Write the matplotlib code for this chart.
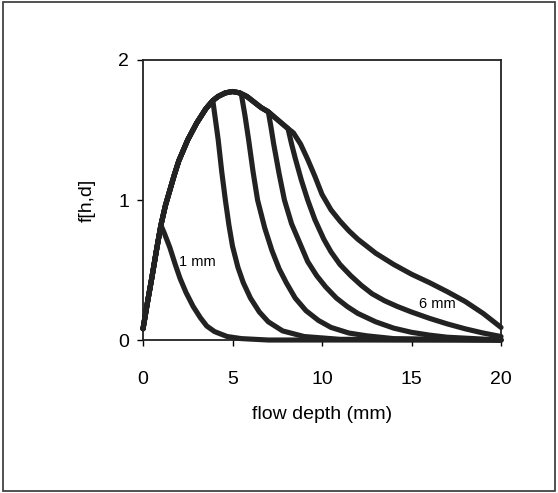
import matplotlib
matplotlib.use("Agg")
import matplotlib.pyplot as plt
from matplotlib.patches import Rectangle

plt.rcParams['font.family'] = ['Liberation Sans', 'DejaVu Sans']

# shared rising part (envelope) of all curves
env_x = [0.0, 0.25, 0.5, 0.75, 1.0, 1.25, 1.5, 1.75, 2.0, 2.5, 3.0, 3.5, 3.9,
         4.2, 4.6, 5.0, 5.4, 5.8, 6.2, 6.6, 7.0, 7.5, 8.1]
env_y = [0.08, 0.27, 0.45, 0.64, 0.82, 0.96, 1.07, 1.18, 1.28, 1.43, 1.55, 1.65, 1.71,
         1.74, 1.765, 1.775, 1.765, 1.74, 1.70, 1.66, 1.63, 1.575, 1.51]

# falling branch of each drop size (d, mm), starts where it leaves the envelope
d1_x = [1.0, 1.2, 1.5, 1.8, 2.07, 2.4, 2.8, 3.2, 3.56, 4.0, 4.7, 5.5, 7.0, 20.0]
d1_y = [0.82, 0.76, 0.66, 0.54, 0.44, 0.34, 0.24, 0.16, 0.10, 0.06, 0.025, 0.01, 0.0, 0.0]

d2_x = [3.9, 4.05, 4.2, 4.4, 4.6, 4.8, 5.0, 5.3, 5.6, 6.0, 6.5, 7.0, 7.8, 9.0, 11.0, 20.0]
d2_y = [1.71, 1.57, 1.43, 1.2, 1.0, 0.82, 0.67, 0.52, 0.41, 0.30, 0.20, 0.13, 0.065, 0.025, 0.005, 0.0]

d3_x = [5.5, 5.7, 5.9, 6.15, 6.4, 6.8, 7.2, 7.6, 8.0, 8.5, 9.1, 9.8, 10.5, 11.5, 12.5, 14.0, 20.0]
d3_y = [1.75, 1.6, 1.43, 1.2, 1.0, 0.8, 0.64, 0.51, 0.41, 0.30, 0.21, 0.14, 0.09, 0.05, 0.03, 0.01, 0.0]

d4_x = [7.0, 7.15, 7.3, 7.6, 7.9, 8.3, 8.8, 9.2, 9.7, 10.2, 10.8, 11.4, 12.0, 13.0,
        14.0, 15.0, 16.0, 17.0, 20.0]
d4_y = [1.63, 1.52, 1.40, 1.19, 1.0, 0.83, 0.68, 0.56, 0.46, 0.38, 0.30, 0.24, 0.19, 0.13,
        0.085, 0.055, 0.035, 0.02, 0.0]

d5_x = [8.1, 8.3, 8.5, 8.85, 9.2, 9.6, 10.1, 10.5, 11.0, 11.6, 12.2, 12.8, 13.5, 14.2,
        15.0, 16.0, 17.0, 18.0, 19.0, 20.0]
d5_y = [1.51, 1.40, 1.30, 1.14, 1.0, 0.86, 0.72, 0.63, 0.54, 0.46, 0.39, 0.33, 0.28, 0.24,
        0.20, 0.155, 0.115, 0.08, 0.05, 0.025]

d6_x = [8.1, 8.4, 8.8, 9.2, 9.6, 10.0, 10.5, 11.0, 11.5, 12.0, 13.0, 14.0,
        15.0, 16.0, 17.0, 18.0, 19.0, 20.0]
d6_y = [1.51, 1.48, 1.40, 1.29, 1.17, 1.04, 0.93, 0.85, 0.78, 0.72, 0.62, 0.54,
        0.47, 0.41, 0.345, 0.275, 0.19, 0.09]

tails = [(d1_x, d1_y), (d2_x, d2_y), (d3_x, d3_y), (d4_x, d4_y), (d5_x, d5_y), (d6_x, d6_y)]

fig = plt.figure(figsize=(5.58, 4.93), dpi=100)
ax = fig.add_axes([0.2563, 0.3103, 0.6416, 0.568])

for tx, ty in tails:
    xs = [x for x in env_x if x < tx[0]] + tx
    ys = [y for x, y in zip(env_x, env_y) if x < tx[0]] + ty
    ax.plot(xs, ys, color='#222222', lw=3.7, solid_joinstyle='round',
            solid_capstyle='round', clip_on=False, zorder=3)

ax.text(2.0, 0.56, '1 mm', fontsize=10.5, va='center', ha='left')
ax.text(15.4, 0.255, '6 mm', fontsize=10.5, va='center', ha='left')

ax.set_xlim(0, 20)
ax.set_ylim(0, 2)
ax.set_xticks([0, 5, 10, 15, 20])
ax.set_yticks([0, 1, 2])
ax.tick_params(direction='out', length=4, width=1, labelsize=14, pad=6)
ax.tick_params(axis='x', pad=18)
for s in ax.spines.values():
    s.set_linewidth(1.3)
    s.set_color('#222222')

ax.set_xlabel('flow depth (mm)', fontsize=14)
ax.set_ylabel('f[h,d]', fontsize=14)
ax.xaxis.set_label_coords(0.5, -0.236)
ax.yaxis.set_label_coords(-0.131, 0.5)

# border around the whole figure
fig.patches.append(Rectangle((0.006, 0.004), 0.988, 0.992, transform=fig.transFigure,
                             fill=False, edgecolor='#333333', lw=1.2))

fig.savefig('out.png', dpi=100)
